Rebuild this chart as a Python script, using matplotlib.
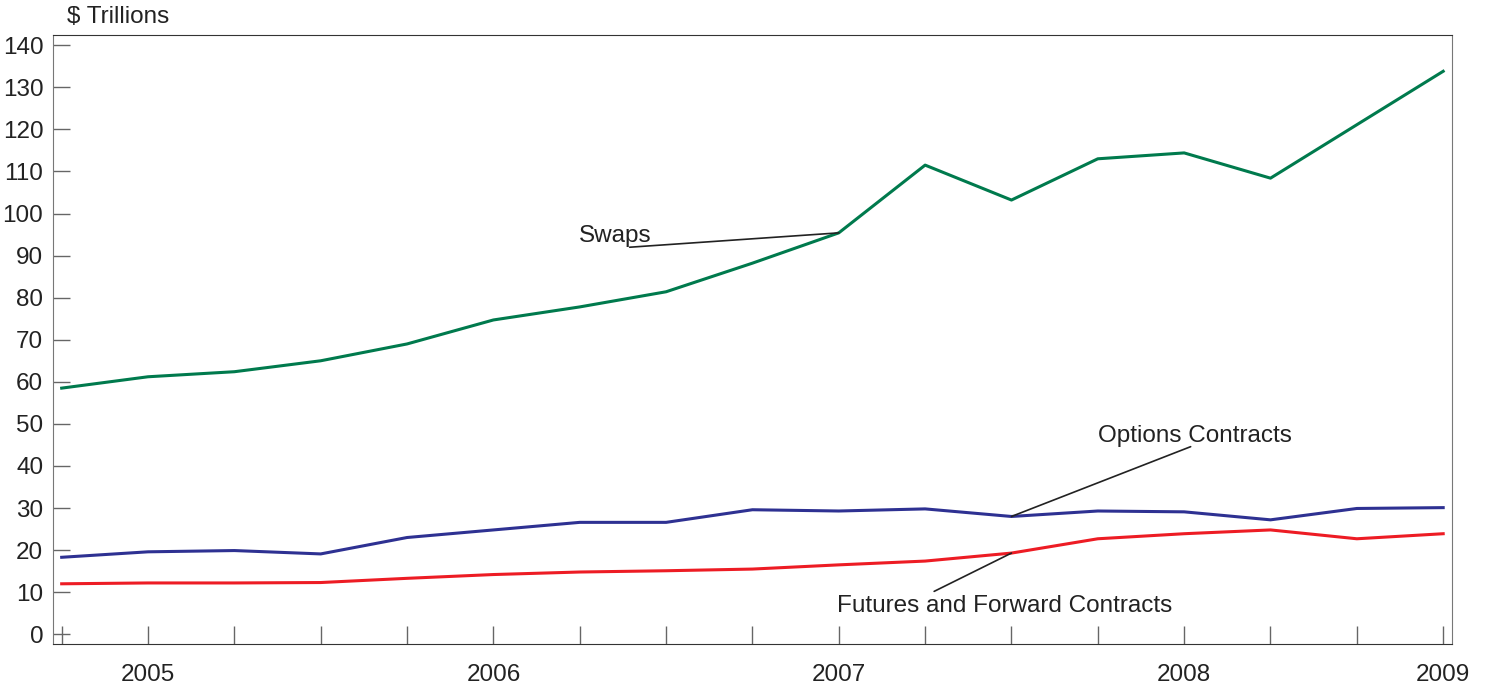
import matplotlib

matplotlib.use("Agg")
import matplotlib.pyplot as plt

plt.rcParams["font.family"] = ["Liberation Sans", "DejaVu Sans"]

# quarterly, 2004Q4 .. 2008Q4
quarters = list(range(17))
swaps = [58.5, 61.2, 62.4, 65.0, 69.0, 74.7, 77.8, 81.4, 88.2, 95.4,
         111.5, 103.2, 113.0, 114.4, 108.4, 121.1, 133.8]
options = [18.3, 19.6, 19.9, 19.1, 23.0, 24.8, 26.6, 26.6, 29.6, 29.3,
           29.8, 28.0, 29.3, 29.1, 27.2, 29.9, 30.1]
futures = [12.0, 12.2, 12.2, 12.3, 13.3, 14.2, 14.8, 15.1, 15.5, 16.5,
           17.4, 19.3, 22.7, 23.9, 24.8, 22.7, 23.9]
year_labels = ["2005", "2006", "2007", "2008", "2009"]
year_pos = [1, 5, 9, 13, 16]

FS = 17.5

fig = plt.figure(figsize=(14.86, 6.88), dpi=100)
ax = fig.add_axes([0.0357, 0.064, 0.9413, 0.885])

ax.plot(quarters, swaps, color="#007A4D", lw=2.2)
ax.plot(quarters, options, color="#2E3192", lw=2.2)
ax.plot(quarters, futures, color="#ED1C24", lw=2.2)

ax.set_xlim(-0.1, 16.1)
ax.set_ylim(-2.3, 142.4)
ax.set_yticks(range(0, 141, 10))
ax.set_xticks(quarters)
ax.set_xticklabels([])
ax.tick_params(axis="y", direction="in", length=12, width=1, color="#666666",
               labelsize=FS, pad=7, labelcolor="#222222")
ax.tick_params(axis="x", direction="in", length=13, width=1, color="#666666")
for side in ["left", "right"]:
    ax.spines[side].set_color("#777777")
for side in ["top", "bottom"]:
    ax.spines[side].set_color("#333333")

for lbl, pos in zip(year_labels, year_pos):
    ax.text(pos, -7.0, lbl, ha="center", va="top", fontsize=FS, color="#222222")

fig.text(67 / 1486, 1 - 17 / 688, "$ Trillions", ha="left", va="center",
         fontsize=FS, color="#222222")

# labels with leader lines (patchA=None so the line can run under the text)
ax.annotate("Swaps", xy=(9, swaps[9]), xytext=(6.41, 94.6), fontsize=FS,
            ha="center", va="center", color="#222222",
            arrowprops=dict(arrowstyle="-", color="#222222", lw=1.2, patchA=None,
                            shrinkA=0, shrinkB=0, relpos=(0.7, 0.0)))
ax.annotate("Options Contracts", xy=(11, options[11]), xytext=(13.12, 47.2),
            fontsize=FS, ha="center", va="center", color="#222222",
            arrowprops=dict(arrowstyle="-", color="#222222", lw=1.2, patchA=None,
                            shrinkA=0, shrinkB=0, relpos=(0.48, 0.0)))
ax.annotate("Futures and Forward Contracts", xy=(11, futures[11]),
            xytext=(10.92, 6.8), fontsize=FS, ha="center", va="center",
            color="#222222",
            arrowprops=dict(arrowstyle="-", color="#222222", lw=1.2, patchA=None,
                            shrinkA=0, shrinkB=0, relpos=(0.29, 1.15)))

fig.savefig("out.png", dpi=100)
